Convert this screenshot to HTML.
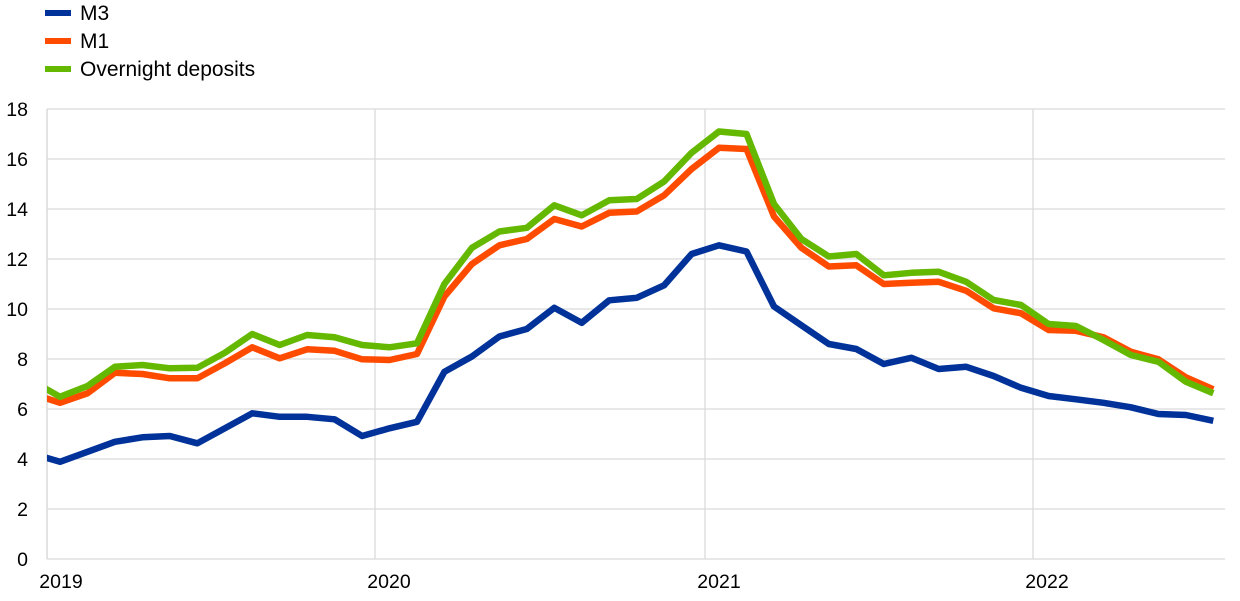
<!DOCTYPE html>
<html><head><meta charset="utf-8"><style>
html,body{margin:0;padding:0;background:#fff;}
svg{display:block;font-family:"Liberation Sans",Arial,sans-serif;}
</style></head><body>
<svg id="c" width="1240" height="601" viewBox="0 0 1240 601" xmlns="http://www.w3.org/2000/svg">
<defs><clipPath id="cp"><rect x="47" y="90" width="1190" height="480"/></clipPath></defs>
<g id="grid" stroke="#dadada" stroke-width="1.3"></g>
<g id="lines" clip-path="url(#cp)" fill="none" stroke-width="6.5" stroke-linejoin="round" stroke-linecap="butt"></g>
<g id="labels" font-size="19.5" fill="#000"></g>
<g font-size="21" fill="#000">
<rect x="45" y="10" width="26" height="6" fill="#003299"/><text x="80" y="20">M3</text>
<rect x="45" y="38" width="26" height="6" fill="#ff4b00"/><text x="80" y="48">M1</text>
<rect x="45" y="66" width="26" height="6" fill="#65b800"/><text x="80" y="76">Overnight deposits</text>
</g>
</svg>
<script>
var NS="http://www.w3.org/2000/svg";
function el(t,a,p){var e=document.createElementNS(NS,t);for(var k in a)e.setAttribute(k,a[k]);p.appendChild(e);return e;}
var g=document.getElementById('grid'),L=document.getElementById('labels'),ln=document.getElementById('lines');
function Y(v){return 559-25*v;}
for(var v=0;v<=18;v+=2){el('line',{x1:47,x2:1225,y1:Y(v),y2:Y(v)},g);var t=el('text',{x:28,y:Y(v)+7,'text-anchor':'end'},L);t.textContent=v;}
var yrs=[[47,'2019'],[375,'2020'],[705,'2021'],[1033,'2022']];
yrs.forEach(function(y){el('line',{x1:y[0],x2:y[0],y1:109,y2:559},g);var t=el('text',{x:y[0]+14,y:588,'text-anchor':'middle'},L);t.textContent=y[1];});
el('line',{x1:47,x2:47,y1:109,y2:559},g);
var m3=[3.89,4.29,4.69,4.87,4.92,4.63,5.23,5.83,5.69,5.69,5.59,4.92,5.23,5.49,7.49,8.1,8.9,9.2,10.05,9.45,10.35,10.45,10.95,12.2,12.55,12.3,10.1,9.35,8.6,8.4,7.8,8.05,7.6,7.69,7.32,6.85,6.52,6.39,6.25,6.07,5.8,5.76,5.53];
var m1=[6.25,6.63,7.45,7.4,7.23,7.23,7.83,8.47,8.03,8.39,8.33,7.99,7.96,8.2,10.5,11.8,12.55,12.8,13.6,13.3,13.85,13.9,14.55,15.6,16.45,16.4,13.7,12.45,11.7,11.75,11.0,11.05,11.09,10.73,10.03,9.83,9.16,9.13,8.87,8.29,7.99,7.27,6.79];
var od=[6.49,6.92,7.69,7.76,7.63,7.65,8.25,9.0,8.56,8.96,8.87,8.56,8.47,8.63,11.0,12.45,13.1,13.25,14.15,13.75,14.35,14.4,15.1,16.25,17.1,17.0,14.2,12.8,12.1,12.2,11.35,11.45,11.49,11.09,10.36,10.16,9.4,9.32,8.76,8.16,7.89,7.09,6.63];
function pl(d,s0,c){var p=[(33)+','+Y(s0)];for(var k=0;k<d.length;k++)p.push((60+27.46*k).toFixed(1)+','+Y(d[k]).toFixed(1));el('polyline',{points:p.join(' '),stroke:c},ln);}
pl(m3,4.2,'#003299');pl(m1,6.6,'#ff4b00');pl(od,7.1,'#65b800');
</script>
</body></html>
